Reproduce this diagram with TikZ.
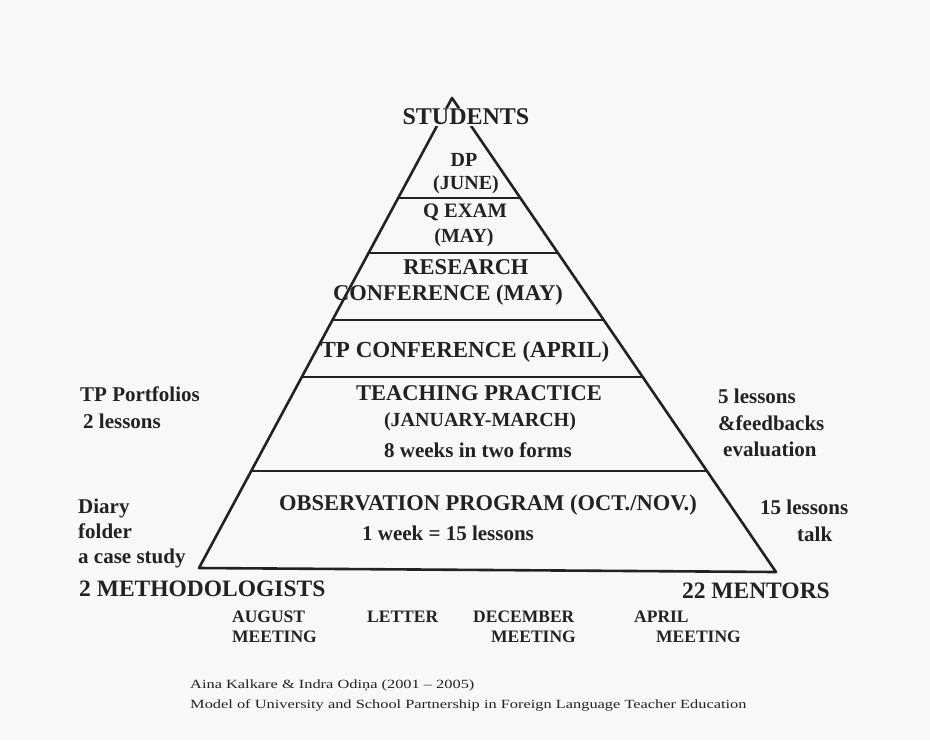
\documentclass[tikz,border=0pt]{standalone}
\usepackage{fontspec}
\setmainfont{Liberation Serif}
\newfontfamily\footfont[FakeStretch=1.31]{Liberation Serif}
\definecolor{bg}{HTML}{F8F8F8}
\definecolor{ink}{HTML}{222222}
\tikzset{
  edge/.style={draw=ink, line width=2.6pt, line cap=round, line join=round},
  lvl/.style={draw=ink, line width=2.4pt},
  txt/.style={text=ink, inner sep=0pt, align=left, font=\bfseries\fontsize{#1}{26}\selectfont},
  sidetxt/.style={text=ink, inner sep=0pt, align=left, font=\bfseries\fontsize{21}{#1}\selectfont},
  meet/.style={text=ink, inner sep=0pt, align=left, font=\bfseries\fontsize{17.5}{20}\selectfont},
  foot/.style={text=ink, inner sep=0pt, align=left, font=\footfont\fontsize{12.5}{20}\selectfont},
}
\begin{document}
\begin{tikzpicture}[x=1pt, y=-1pt]
\fill[bg] (0,0) rectangle (930,740);
\useasboundingbox (0,0) rectangle (930,740);
% pyramid
\coordinate (apex) at (452,98);
\coordinate (bl) at (199,568);
\coordinate (br) at (776,572);
\draw[edge] (bl) -- (apex) -- (br) -- cycle;
\draw[lvl] (398,198) -- (520,198);
\draw[lvl] (369,253) -- (558,253);
\draw[lvl] (332,320) -- (604,320);
\draw[lvl] (302,377) -- (643,377);
\draw[lvl] (251,471) -- (707,471);
% labels inside
\node[txt=24, fill=bg, inner sep=1pt] (students) at (466,117) {STUDENTS};
\node[txt=20] (dp) at (464,160) {DP};
\node[txt=20] (june) at (466,185) {(JUNE)};
\node[txt=20.5] (qexam) at (465,212) {Q EXAM};
\node[txt=20] (may) at (464,238) {(MAY)};
\node[txt=22.5] (research) at (466,267) {RESEARCH};
\node[txt=22.5] (resconf) at (448,295) {CONFERENCE (MAY)};
\node[txt=23] (tpconf) at (465,352) {TP CONFERENCE (APRIL)};
\node[txt=22.5] (tp) at (479,393) {TEACHING PRACTICE};
\node[txt=20] (janmar) at (480,422) {(JANUARY-MARCH)};
\node[txt=21] (weeks) at (478,450) {8 weeks in two forms};
\node[txt=22.5] (obs) at (488,505) {OBSERVATION PROGRAM (OCT./NOV.)};
\node[txt=21] (week) at (448,533) {1 week = 15 lessons};
% side notes
\node[sidetxt=27, anchor=west] (portf) at (80,408) {TP Portfolios\\\hspace*{3pt}2 lessons};
\node[sidetxt=25, anchor=west] (diary) at (78,533) {Diary\\folder\\a case study};
\node[txt=23.5, anchor=west] (meth) at (79,589) {2 METHODOLOGISTS};
\node[sidetxt=26.5, anchor=west] (five) at (718,423) {5 lessons\\\&feedbacks\\\hspace*{5pt}evaluation};
\node[sidetxt=27, anchor=west] (fifteen) at (760,521) {15 lessons\\\hspace*{37pt}talk};
\node[txt=23.5, anchor=east] (mentors) at (830,591) {22 MENTORS};
% meetings
\node[meet, anchor=west] (aug) at (232,627) {AUGUST\\MEETING};
\node[meet, anchor=west] (letter) at (367,617) {LETTER};
\node[meet, anchor=west] (dec) at (473,627) {DECEMBER\\\hspace*{18pt}MEETING};
\node[meet, anchor=west] (apr) at (634,627) {APRIL\\\hspace*{22pt}MEETING};
% footer
\node[foot, anchor=west] (ref) at (190,696) {Aina Kalkare \& Indra Odiņa (2001 – 2005)\\Model of University and School Partnership in Foreign Language Teacher Education};
\end{tikzpicture}
\end{document}
